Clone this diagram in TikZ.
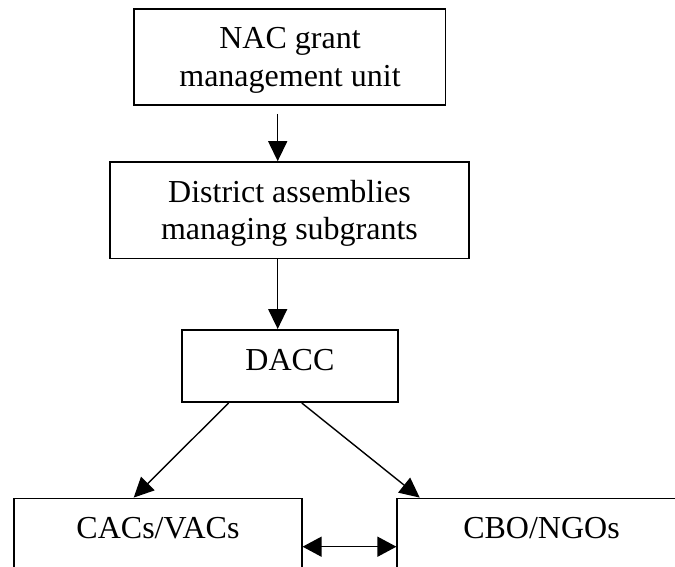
\documentclass[tikz,border=0pt]{standalone}
\usepackage{fontspec}
\setmainfont{Liberation Serif}
\usetikzlibrary{arrows.meta}
\begin{document}
\begin{tikzpicture}[x=1pt,y=-1pt,
  box/.style={draw, line width=1.6pt, inner sep=0pt},
  lbl/.style={anchor=base, inner sep=0pt, font=\fontsize{32}{38}\selectfont},
  conn/.style={line width=1.4pt, -{Triangle[length=20pt,width=19pt]}},
  dconn/.style={line width=1.4pt, {Triangle[length=19pt,width=20pt]}-{Triangle[length=19pt,width=20pt]}},
]
\useasboundingbox (0,0) rectangle (675,567);
\clip (0,0) rectangle (675,567);
\fill[white] (0,0) rectangle (675,567);

\node[box, minimum width=311.6pt, minimum height=96pt] (b1) at (289.7,57) {};
\node[box, minimum width=359.4pt, minimum height=96.6pt] (b2) at (289.5,210.3) {};
\node[box, minimum width=216.1pt, minimum height=72.4pt] (b3) at (289.75,366) {};
\node[box, minimum width=288pt, minimum height=121.6pt] (b4) at (157.8,559.2) {};
\node[box, minimum width=288.8pt, minimum height=121.6pt] (b5) at (541.6,559.2) {};

\node[lbl] (t1a) at (290,48.8) {NAC grant};
\node[lbl] (t1b) at (290,86.8) {management unit};
\node[lbl] (t2a) at (289.5,202.5) {District assemblies};
\node[lbl] (t2b) at (289.5,239.5) {managing subgrants};
\node[lbl] (t3) at (289.9,370.7) {DACC};
\node[lbl] (t4) at (158,538.9) {CACs/VACs};
\node[lbl] (t5) at (541.5,538.9) {CBO/NGOs};

\coordinate (a1s) at (277.7,114);
\coordinate (da) at (0,546.7);
\draw[conn] (a1s) -- (a1s |- b2.north);
\draw[conn] (b2.south -| a1s) -- (b3.north -| a1s);
\draw[conn] ([xshift=47.7pt]b3.south west) -- ([xshift=120.7pt]b4.north west);
\draw[conn] ([xshift=120.9pt]b3.south west) -- ([xshift=23.3pt]b5.north west);
\draw[dconn] (b4.north east |- da) -- (b5.north west |- da);
\end{tikzpicture}
\end{document}
